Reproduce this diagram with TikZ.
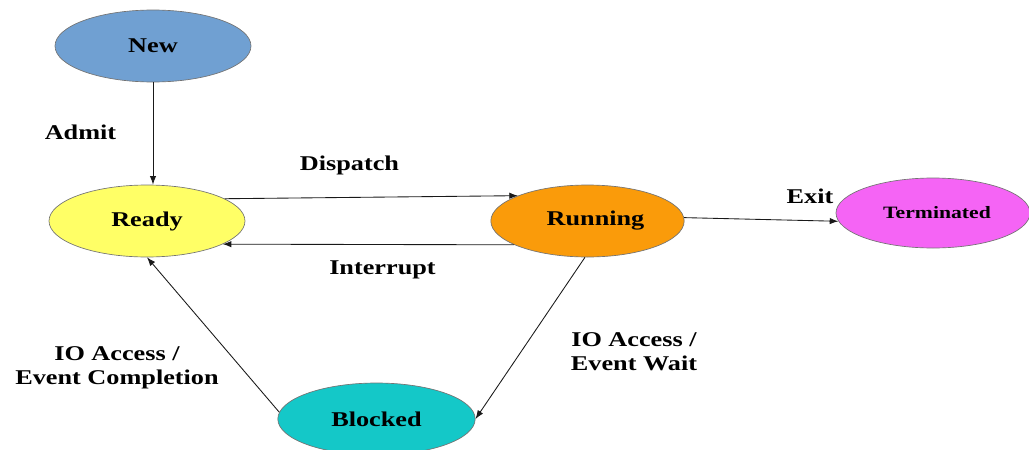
\documentclass[tikz,border=0pt]{standalone}
\usepackage{fontspec}
\setmainfont{Liberation Serif}
\usepackage{graphicx}
\usetikzlibrary{shapes.geometric,arrows.meta}
\definecolor{cnew}{RGB}{112,160,210}
\definecolor{cready}{RGB}{255,255,102}
\definecolor{crun}{RGB}{250,155,10}
\definecolor{cterm}{RGB}{245,100,245}
\definecolor{cblock}{RGB}{20,200,200}
\newcommand{\widetxt}[1]{\scalebox{1.25}[1]{#1}}
\begin{document}
\begin{tikzpicture}[x=0.75pt,y=-0.75pt,
  state/.style={ellipse,draw=black!55,line width=0.5pt,inner sep=0pt,
    minimum width=147pt,minimum height=54pt,
    font=\fontsize{15.75}{18}\selectfont\bfseries},
  lab/.style={inner sep=0pt,anchor=base,align=center,
    font=\fontsize{15.75}{18}\selectfont\bfseries},
  conn/.style={draw=black!90,line width=0.65pt,-{Latex[length=6.5pt,width=4.8pt]}}]
\useasboundingbox (0,0) rectangle (1029,450);
\node[state,fill=cnew] (new) at (153,46) {\widetxt{New}};
\node[state,fill=cready] (ready) at (147,221) {\widetxt{Ready}};
\node[state,fill=crun,minimum width=145pt] (run) at (587.5,221) {\hspace{12pt}\widetxt{Running}};
\node[state,fill=cterm,minimum width=145.5pt,minimum height=52.5pt,
  font=\fontsize{13}{15}\selectfont\bfseries] (term) at (933,213) {\hspace{6pt}\widetxt{Terminated}};
\node[state,fill=cblock,minimum width=148pt] (block) at (376.5,419) {\widetxt{Blocked}\hspace{12.5pt}};

\node[lab] (admit) at (80.5,139) {\widetxt{Admit}};
\node[lab] (disp) at (349.5,170) {\widetxt{Dispatch}};
\node[lab] (intr) at (382.5,274) {\widetxt{Interrupt}};
\node[lab] (exit) at (810,203) {\widetxt{Exit}};
\node[lab] (wait) at (634,370) {\widetxt{IO Access /}\\\widetxt{Event Wait}};
\node[lab] (compl) at (117,384) {\widetxt{IO Access /}\\\widetxt{Event Completion}};

\draw[conn] (new.south) -- (new.south |- ready.north);
\draw[conn] (ready.16.8) -- (run.160.3);
\draw[conn] (run.198) -- (ready.343);
\draw[conn] (run.2.3) -- (term.185.7);
\draw[conn] (run.266) -- (block.0.6);
\draw[conn] (block.176.5) -- (ready.270);
\end{tikzpicture}
\end{document}
